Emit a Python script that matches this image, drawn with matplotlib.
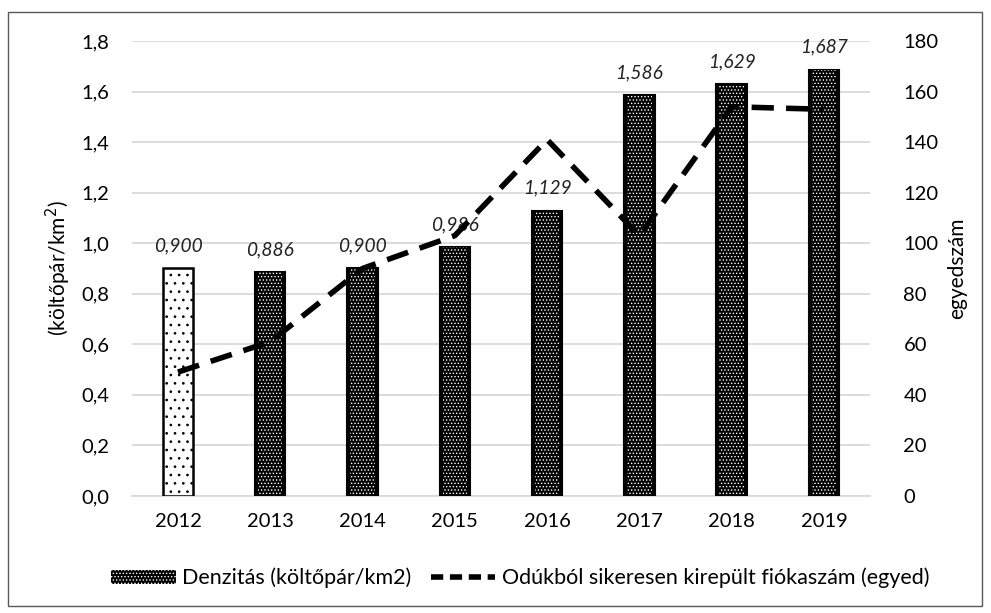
import numpy as np
import matplotlib
matplotlib.use("Agg")
import matplotlib.pyplot as plt
from matplotlib.patches import Patch, Rectangle
from matplotlib.lines import Line2D
from matplotlib.ticker import FuncFormatter

plt.rcParams['font.family'] = ['Lato', 'DejaVu Sans']

# adatok
evek = ['2012', '2013', '2014', '2015', '2016', '2017', '2018', '2019']
denzitas = [0.900, 0.886, 0.900, 0.986, 1.129, 1.586, 1.629, 1.687]
fiokak = [49, 61, 90, 103, 141, 103, 154, 153]

fig = plt.figure(figsize=(9.91, 6.13), dpi=100)
ax = fig.add_axes([0.133, 0.191, 0.745, 0.742])
ax2 = ax.twinx()

x = np.arange(len(evek))
w = 0.33

# 2012 világos pontozott oszlop
plt.rcParams['hatch.linewidth'] = 0.7
ax.bar(x[0], denzitas[0], w, color='white', edgecolor='black', hatch='..', linewidth=1.8, zorder=3)
# a többi sötét, fehér pöttyökkel
ax.bar(x[1:], denzitas[1:], w, color='black', edgecolor='black', linewidth=1.5, zorder=3)
plt.rcParams['hatch.linewidth'] = 0.6
ax.bar(x[1:], denzitas[1:], w * 0.8, color='none', edgecolor='white', hatch='.....', linewidth=0, zorder=4)

for xi, v in zip(x, denzitas):
    ax.text(xi, v + 0.055, f'{v:.3f}'.replace('.', ','), ha='center', va='bottom',
            fontsize=13.8, style='italic', color='#222222', zorder=5)

ax.set_ylim(0, 1.8)
ax.set_xlim(-0.5, len(evek) - 0.5)
ax.set_yticks(np.arange(0, 1.81, 0.2))
ax.yaxis.set_major_formatter(FuncFormatter(lambda v, p: f'{v:.1f}'.replace('.', ',')))
ax.set_xticks(x)
ax.set_xticklabels(evek)
ax.grid(axis='y', color='#d9d9d9', linewidth=1.3, zorder=0)
ax.set_axisbelow(True)
for s in ['top', 'left', 'right']:
    ax.spines[s].set_visible(False)
ax.spines['bottom'].set_color('#d9d9d9')
ax.spines['bottom'].set_linewidth(1.3)
ax.tick_params(axis='y', length=0, labelsize=14.5, pad=16)
ax.tick_params(axis='x', length=0, labelsize=14.5, pad=12)
ax.set_ylabel('(költőpár/km$^2$)', fontsize=15, labelpad=6)

ax2.plot(x, fiokak, color='black', linewidth=4, dashes=(4, 2.2), zorder=6)
ax2.set_ylim(0, 180)
ax2.set_yticks(np.arange(0, 181, 20))
for s in ['top', 'left', 'right', 'bottom']:
    ax2.spines[s].set_visible(False)
ax2.tick_params(axis='y', length=0, labelsize=14.5, pad=24)
ax2.set_ylabel('egyedszám', fontsize=15, labelpad=6)

# a vonal a sávok fölé kerüljön
ax.set_zorder(1)
ax2.set_zorder(2)
ax2.patch.set_visible(False)

h1 = Patch(facecolor='black', edgecolor='white', hatch='.....', linewidth=0)
h2 = Line2D([0], [0], color='black', linewidth=4, dashes=(2.2, 1.2))
leg = fig.legend([h1, h2], ['Denzitás (költőpár/km2)', 'Odúkból sikeresen kirepült fiókaszám (egyed)'],
                 loc='center', bbox_to_anchor=(0.525, 0.057), ncol=2, frameon=False,
                 fontsize=15.5, handlelength=3.0, handleheight=0.6, columnspacing=0.9, handletextpad=0.3)

fig.patches.append(Rectangle((0.008, 0.012), 0.983, 0.968, transform=fig.transFigure,
                             fill=False, edgecolor='#595959', linewidth=1))

fig.savefig('out.png', dpi=100)
